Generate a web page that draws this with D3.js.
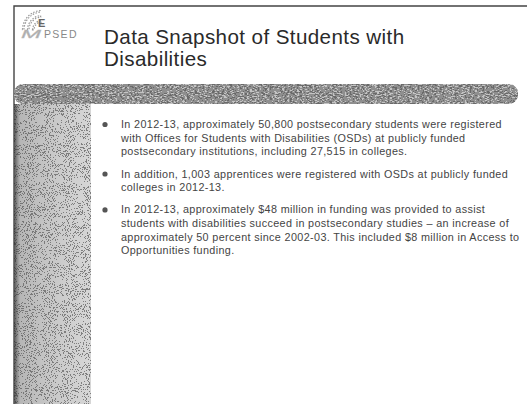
<!DOCTYPE html>
<html>
<head>
<meta charset="utf-8">
<script src="https://cdn.jsdelivr.net/npm/d3@7"></script>
<style>
  html, body { margin: 0; padding: 0; background: #fff; }
  svg { display: block; }
</style>
</head>
<body>
<div id="chart"></div>
<script>
const titleLines = ["Data Snapshot of Students with", "Disabilities"];
const logoText = "PSED";
const bullets = [
  ["In 2012-13, approximately 50,800 postsecondary students were registered",
   "with Offices for Students with Disabilities (OSDs) at publicly funded",
   "postsecondary institutions, including 27,515 in colleges."],
  ["In addition, 1,003 apprentices were registered with OSDs at publicly funded",
   "colleges in 2012-13."],
  ["In 2012-13, approximately $48 million in funding was provided to assist",
   "students with disabilities succeed in postsecondary studies \u2013 an increase of",
   "approximately 50 percent since 2002-03. This included $8 million in Access to",
   "Opportunities funding."]
];

const width = 527;
const height = 404;
const paraGap = 0.64;
const font = "Liberation Sans, Arial, sans-serif";

const svg = d3.select("#chart").append("svg")
  .attr("width", width)
  .attr("height", height);

const defs = svg.append("defs");

// stipple textures, scanned look
function stipple(id, fx, fy, seed, table) {
  const f = defs.append("filter").attr("id", id)
    .attr("x", 0).attr("y", 0).attr("width", 1).attr("height", 1);
  f.append("feTurbulence").attr("type", "fractalNoise")
    .attr("baseFrequency", fx + " " + fy).attr("numOctaves", 2).attr("seed", seed).attr("result", "n");
  f.append("feColorMatrix").attr("in", "n").attr("type", "matrix")
    .attr("values", "0 0 0 0 0.1  0 0 0 0 0.1  0 0 0 0 0.1  1 0 0 0 0").attr("result", "a");
  f.append("feComponentTransfer").attr("in", "a").attr("result", "t")
    .append("feFuncA").attr("type", "discrete").attr("tableValues", table);
  f.append("feComposite").attr("in", "t").attr("in2", "SourceGraphic").attr("operator", "in");
}
stipple("bandTex", 0.4, 1.1, 4, "0 0 0.5 0.85 0.85");
stipple("panelTex", 0.95, 0.95, 7, "0 0 0 0.7 0.7");

const edge = defs.append("linearGradient").attr("id", "edge");
edge.append("stop").attr("offset", "0").attr("stop-color", "#222").attr("stop-opacity", 0.75);
edge.append("stop").attr("offset", "0.08").attr("stop-color", "#555").attr("stop-opacity", 0.25);
edge.append("stop").attr("offset", "1").attr("stop-color", "#888").attr("stop-opacity", 0.0);

// frame
svg.append("path")
  .attr("d", "M14,404 L14,6 L527,6")
  .attr("fill", "none").attr("stroke", "#444").attr("stroke-width", 1.4);

// title band
const band = svg.append("g");
band.append("rect").attr("x", 14).attr("y", 84).attr("width", 504).attr("height", 20)
  .attr("rx", 9).attr("fill", "#c4c4c4");
band.append("rect").attr("x", 14).attr("y", 84).attr("width", 504).attr("height", 20)
  .attr("rx", 9).attr("fill", "#000").attr("filter", "url(#bandTex)");

// left panel
const panel = svg.append("g");
panel.append("rect").attr("x", 14).attr("y", 104).attr("width", 77).attr("height", 300).attr("fill", "#d6d6d6");
panel.append("rect").attr("x", 14).attr("y", 104).attr("width", 77).attr("height", 300)
  .attr("fill", "#000").attr("filter", "url(#panelTex)");
panel.append("rect").attr("x", 14).attr("y", 104).attr("width", 77).attr("height", 300).attr("fill", "url(#edge)");

// logo
const logo = svg.append("g");
d3.range(3).forEach(r => {
  logo.append("path")
    .attr("transform", "translate(42,30)")
    .attr("d", d3.arc()({ innerRadius: 8 + r * 5, outerRadius: 9.5 + r * 5, startAngle: -1.55, endAngle: -0.1 }))
    .attr("fill", "none").attr("stroke", "#999").attr("stroke-width", 1.2).attr("stroke-dasharray", "1.5,1.5");
});
logo.append("text").attr("x", 38).attr("y", 27)
  .attr("font-family", font).attr("font-size", 11).attr("font-weight", "bold")
  .attr("fill", "#666").text("E");
logo.append("text").attr("x", 21).attr("y", 38)
  .attr("font-family", font).attr("font-size", 11)
  .attr("font-style", "italic").attr("fill", "#aaa").attr("stroke", "#bbb").attr("stroke-width", 0.3)
  .attr("textLength", 20).attr("lengthAdjust", "spacingAndGlyphs").text("M");
logo.append("text").attr("x", 44).attr("y", 38)
  .attr("font-family", font).attr("font-size", 10.5)
  .attr("letter-spacing", 1.3).attr("fill", "#888").text(logoText);

// title
const titleY = d3.scaleLinear().domain([0, 1]).range([44, 66]);
svg.append("g").selectAll("text").data(titleLines).enter().append("text")
  .attr("x", 104)
  .attr("y", (d, i) => titleY(i))
  .attr("font-family", font)
  .attr("font-size", 20.6)
  .attr("letter-spacing", 0.4)
  .attr("fill", "#2a2a2a")
  .text(d => d);

// bullets
let lines = [];
let pos = 0;
bullets.forEach(b => {
  b.forEach((t, li) => {
    lines.push({ text: t, pos: pos, first: li === 0 });
    pos += 1;
  });
  pos += paraGap;
});
const lineY = d3.scaleLinear().domain([0, 1]).range([128, 141.6]);

const body = svg.append("g");
body.selectAll("circle").data(lines.filter(d => d.first)).enter().append("circle")
  .attr("cx", 105)
  .attr("cy", d => lineY(d.pos) - 3.5)
  .attr("r", 2.6)
  .attr("fill", "#555");
body.selectAll("text").data(lines).enter().append("text")
  .attr("x", 121)
  .attr("y", d => lineY(d.pos))
  .attr("font-family", font)
  .attr("font-size", 10.8)
  .attr("letter-spacing", 0.36)
  .attr("fill", "#444")
  .text(d => d.text);
</script>
</body>
</html>
